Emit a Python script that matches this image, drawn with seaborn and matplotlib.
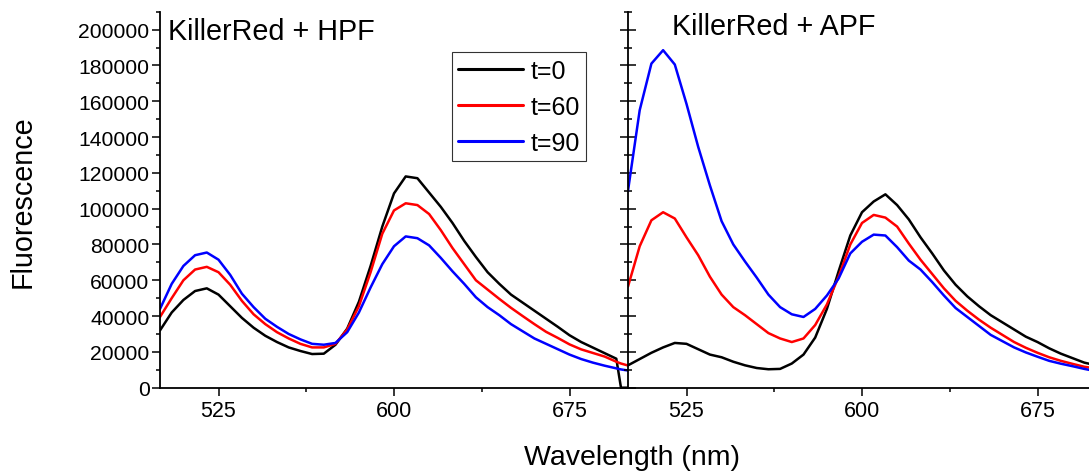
import numpy as np
import pandas as pd
import matplotlib
matplotlib.use("Agg")
import matplotlib.pyplot as plt
from matplotlib.ticker import MultipleLocator
import seaborn as sns

wavelength = [500, 505, 510, 515, 520, 525, 530, 535, 540, 545, 550, 555, 560, 565, 570,
              575, 580, 585, 590, 595, 600, 605, 610, 615, 620, 625, 630, 635, 640, 645,
              650, 655, 660, 665, 670, 675, 680, 685, 690, 695, 697, 700]

hpf_t0 = [32000, 42000, 49000, 54000, 55500, 52000, 45500, 39000, 33500, 29000, 25500, 22500,
          20500, 18800, 19000, 24000, 33000, 48000, 68000, 90000, 108500, 118000, 117000,
          109000, 101000, 92000, 82000, 73000, 64500, 58000, 52000, 47500, 43000, 38500,
          34000, 29300, 25500, 22400, 19300, 16200, 0, 0]
hpf_t60 = [39500, 50000, 60000, 66000, 67500, 64500, 57500, 48500, 41000, 35500, 31000, 27500,
           24500, 22500, 22500, 24500, 32500, 45500, 64500, 86000, 99000, 103000, 102000,
           97000, 88000, 78000, 69000, 60000, 54800, 49600, 44600, 40000, 35500, 31200,
           27800, 24200, 21400, 19400, 17400, 14500, 13500, 12400]
hpf_t90 = [44000, 58000, 68000, 74000, 75500, 71500, 63000, 52500, 45000, 38500, 34000, 30000,
           27000, 24500, 24000, 25000, 31000, 42000, 56000, 69000, 79000, 84500, 83500,
           79500, 72500, 65000, 58000, 50500, 45000, 40500, 35500, 31500, 27500, 24500,
           21500, 18500, 16000, 14000, 12300, 10800, 10200, 9600]

apf_t0 = [12500, 16000, 19500, 22500, 25000, 24500, 21500, 18500, 17000, 14500, 12500, 11000,
          10300, 10500, 13500, 18500, 28000, 44000, 65000, 85000, 98000, 104000, 108000,
          102000, 94000, 84000, 75000, 65500, 57500, 51000, 45500, 40500, 36500, 32500,
          28500, 25500, 22000, 19000, 16500, 14000, 13400, 12800]
apf_t60 = [56500, 79000, 93500, 98000, 94500, 84000, 74000, 62000, 52000, 45000, 40500, 35500,
           30500, 27500, 25500, 27500, 35000, 46500, 62000, 80000, 92000, 96500, 95000,
           90000, 80500, 71500, 63500, 55500, 48500, 43000, 38000, 33500, 29500, 25500,
           22300, 19500, 17000, 15000, 13300, 11700, 11300, 10700]
apf_t90 = [110000, 155000, 181000, 188500, 180500, 158500, 134500, 113000, 93000, 80000, 70500,
           61500, 52000, 45000, 41000, 39500, 44000, 51500, 61000, 75000, 81500, 85500, 85000,
           78500, 71000, 66000, 59000, 51500, 44500, 39500, 34500, 29500, 26000, 22500,
           19700, 17300, 15000, 13400, 12000, 10500, 10000, 9600]

series_labels = ["t=0", "t=60", "t=90"]
panel_titles = ["KillerRed + HPF", "KillerRed + APF"]
colors = {"t=0": "#000000", "t=60": "#ff0000", "t=90": "#0000ff"}


def long_df(series):
    frames = []
    for lab, vals in zip(series_labels, series):
        frames.append(pd.DataFrame({"wavelength": wavelength, "fluor": vals, "time": lab}))
    return pd.concat(frames, ignore_index=True)


df_hpf = long_df([hpf_t0, hpf_t60, hpf_t90])
df_apf = long_df([apf_t0, apf_t60, apf_t90])

sns.set_style("ticks")
plt.rcParams["font.family"] = ["Liberation Sans", "DejaVu Sans"]
plt.rcParams["text.color"] = "black"
plt.rcParams["xtick.color"] = "black"
plt.rcParams["ytick.color"] = "black"
plt.rcParams["axes.labelcolor"] = "black"

W, H = 1089, 477
fig = plt.figure(figsize=(W / 100, H / 100), dpi=100)

x0, x_split, y_bot, y_top = 160, 628, 388.7, 12.7
ax1 = fig.add_axes([x0 / W, 1 - y_bot / H, (x_split - x0) / W, (y_bot - y_top) / H])
ax2 = fig.add_axes([x_split / W, 1 - y_bot / H, (x_split - x0) / W, (y_bot - y_top) / H])

for ax, df in [(ax1, df_hpf), (ax2, df_apf)]:
    sns.lineplot(data=df, x="wavelength", y="fluor", hue="time", palette=colors,
                 linewidth=1.8, ax=ax, legend=(ax is ax1))
    ax.set_xlim(500, 700)
    ax.set_ylim(0, 210000)
    ax.set_xlabel("")
    ax.set_ylabel("")
    ax.xaxis.set_minor_locator(MultipleLocator(37.5))
    ax.set_xticks([525, 600, 675])
    ax.yaxis.set_major_locator(MultipleLocator(20000))
    ax.yaxis.set_minor_locator(MultipleLocator(10000))
    for s in ["top", "right"]:
        ax.spines[s].set_visible(False)
    for s in ["left", "bottom"]:
        ax.spines[s].set_linewidth(1.3)
        ax.spines[s].set_color("black")
    ax.tick_params(axis="x", which="major", direction="out", length=6, width=1.1,
                   labelsize=15.5, pad=3, colors="black")
    ax.tick_params(axis="x", which="minor", direction="out", length=3, width=1.1)
    ax.set_facecolor("white")

ax1.tick_params(axis="y", which="major", direction="out", length=6, width=1.1,
                labelsize=15.2, pad=1.5)
ax1.tick_params(axis="y", which="minor", direction="out", length=3, width=1.1)
ax2.tick_params(axis="y", which="major", direction="inout", length=11, width=1.1,
                labelleft=False)
ax2.tick_params(axis="y", which="minor", direction="inout", length=6, width=1.1)

ax1.text(0.017, 0.928, panel_titles[0], transform=ax1.transAxes, fontsize=20.7,
         ha="left", va="baseline")
ax2.text(0.094, 0.94, panel_titles[1], transform=ax2.transAxes, fontsize=20.7,
         ha="left", va="baseline")

handles, labels = ax1.get_legend_handles_labels()
leg = ax1.legend(handles, labels, loc="upper right", bbox_to_anchor=(0.91, 0.892),
                 fontsize=18, frameon=True, fancybox=False, borderpad=0.25,
                 handlelength=2.6, handletextpad=0.3, labelspacing=0.48,
                 borderaxespad=0)
leg.get_frame().set_edgecolor("black")
leg.get_frame().set_linewidth(0.8)
for ln in leg.get_lines():
    ln.set_linewidth(2.2)

fig.text(23 / W, 1 - 202 / H, "Fluorescence", rotation=90, fontsize=20.7,
         ha="center", va="center")
fig.text(632 / W, 1 - 458 / H, "Wavelength (nm)", fontsize=20.5, ha="center", va="center")

fig.savefig("out.png", dpi=100, facecolor="white")
